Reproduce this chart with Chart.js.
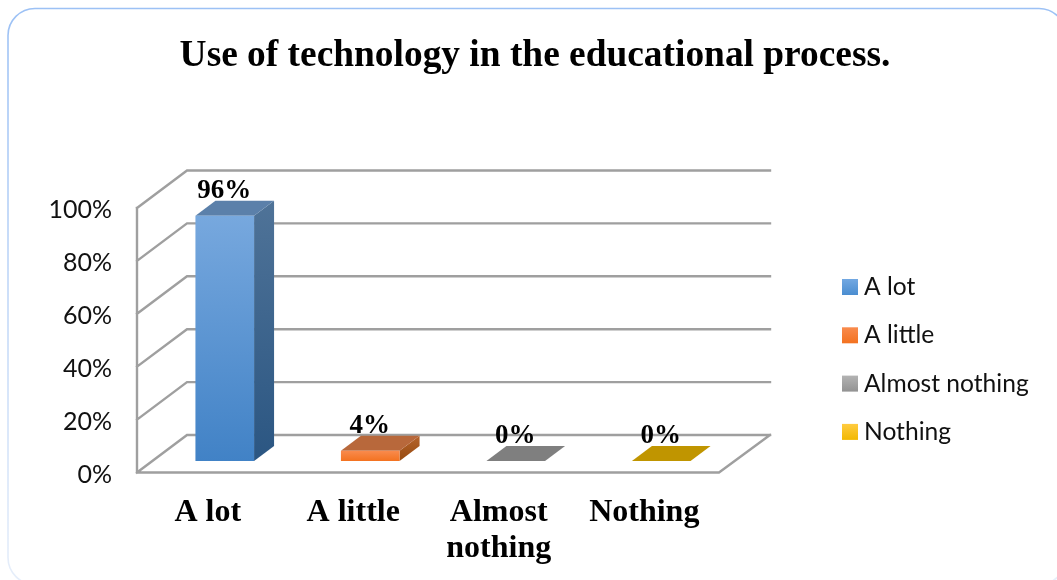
<!DOCTYPE html>
<html>
<head>
<meta charset="utf-8">
<title>Use of technology in the educational process.</title>
<script src="https://cdn.jsdelivr.net/npm/chart.js@4/dist/chart.umd.min.js"></script>
<style>
	html, body { margin: 0; padding: 0; background: #fff; overflow: hidden; }
	#wrap { width: 1057px; height: 580px; }
</style>
</head>
<body>
<div id="wrap"><canvas id="barChart" width="1057" height="580"></canvas></div>
<script>
const categories = ['A lot', 'A little', 'Almost nothing', 'Nothing'];
const tickLabels = ['A lot', 'A little', ['Almost', 'nothing'], 'Nothing'];
const percentages = [96, 4, 0, 0];
const yTicks = [0, 20, 40, 60, 80, 100];

// front face top, front face bottom, top face, side top, side bottom
const blueShades = ['#77a8de', '#4182c6', '#5b80aa', '#4f7398', '#2b5682'];
const orangeShades = ['#f98b4d', '#f37220', '#b8683b', '#b5632b', '#964a10'];
const grayShades = ['#a5a5a5', '#7f7f7f', '#7f7f7f', '#7f7f7f', '#7f7f7f'];
const goldShades = ['#ffc000', '#bf9000', '#c09500', '#bf9000', '#bf9000'];
const shades = [blueShades, orangeShades, grayShades, goldShades];

const legendSwatches = [
	['#72a8e2', '#4a8dd0'],
	['#f98b4d', '#f37220'],
	['#b3b3b3', '#929292'],
	['#ffcb40', '#f2b800']
];

const wallDepth = { x: 50, y: 37.5 };
const barDepth = { x: 20, y: 15 };
const barPlaneShift = 15;
const gridColor = '#9f9f9f';

function fillPolygon(ctx, points, fill) {
	ctx.beginPath();
	points.forEach(function (p, i) {
		if (i === 0) ctx.moveTo(p[0], p[1]);
		else ctx.lineTo(p[0], p[1]);
	});
	ctx.closePath();
	ctx.fillStyle = fill;
	ctx.fill();
}

function vertical(ctx, y0, y1, from, to) {
	const g = ctx.createLinearGradient(0, y0, 0, y1);
	g.addColorStop(0, from);
	g.addColorStop(1, to);
	return g;
}

// rounded frame round the whole chart, fading towards the bottom
const framePlugin = {
	id: 'frame',
	beforeDraw(chart) {
		const ctx = chart.ctx;
		ctx.save();
		ctx.fillStyle = '#fff';
		ctx.fillRect(0, 0, chart.width, chart.height);
		ctx.beginPath();
		ctx.roundRect(8, 8.5, 1058, 576, 27);
		ctx.lineWidth = 1.6;
		ctx.strokeStyle = vertical(ctx, 8, 580, '#9cc1f5', '#e6eefa');
		ctx.stroke();
		ctx.restore();
	}
};

// walls and floor of the 3D box, one line per tick of the y scale
const wallsPlugin = {
	id: 'walls',
	beforeDatasetsDraw(chart) {
		const ctx = chart.ctx;
		const area = chart.chartArea;
		const y = chart.scales.y;
		const left = area.left - barPlaneShift;
		const right = left + 582;
		const backRight = right + wallDepth.x + 1;
		const floor = y.getPixelForValue(0);
		const top = y.getPixelForValue(100);

		ctx.save();
		ctx.strokeStyle = gridColor;
		ctx.lineWidth = 2.4;
		ctx.lineCap = 'square';
		ctx.beginPath();
		yTicks.forEach(function (tick) {
			const py = y.getPixelForValue(tick);
			ctx.moveTo(left, py);
			ctx.lineTo(left + wallDepth.x, py - wallDepth.y);
			ctx.lineTo(backRight, py - wallDepth.y);
		});
		ctx.moveTo(left, top);
		ctx.lineTo(left, floor);
		ctx.lineTo(right, floor);
		ctx.lineTo(backRight, floor - wallDepth.y);
		ctx.stroke();
		ctx.restore();
	}
};

// top and side faces of each bar, built on the bar element the library laid out
const barFacesPlugin = {
	id: 'barFaces',
	beforeDatasetsDraw(chart) {
		const ctx = chart.ctx;
		chart.getDatasetMeta(0).data.forEach(function (bar, i) {
			const c = shades[i];
			const l = bar.x - bar.width / 2;
			const r = bar.x + bar.width / 2;
			const dx = barDepth.x;
			const dy = barDepth.y;
			fillPolygon(ctx, [[r, bar.y], [r + dx, bar.y - dy], [r + dx, bar.base - dy], [r, bar.base]],
				vertical(ctx, bar.y - dy, bar.base, c[3], c[4]));
			fillPolygon(ctx, [[l, bar.y], [l + dx, bar.y - dy], [r + dx, bar.y - dy], [r, bar.y]], c[2]);
		});
	},
	afterDatasetsDraw(chart) {
		const ctx = chart.ctx;
		ctx.save();
		ctx.font = 'bold 27px "Liberation Serif"';
		ctx.fillStyle = '#000';
		ctx.textAlign = 'center';
		ctx.textBaseline = 'alphabetic';
		chart.getDatasetMeta(0).data.forEach(function (bar, i) {
			ctx.fillText(percentages[i] + '%', bar.x - 0.5, bar.y - barDepth.y - 3);
		});
		ctx.restore();
	}
};

const legendPlugin = {
	id: 'sideLegend',
	afterDraw(chart) {
		const ctx = chart.ctx;
		ctx.save();
		ctx.font = '24.6px Lato';
		ctx.textBaseline = 'middle';
		categories.forEach(function (name, i) {
			const y = 279 + i * 48.3;
			ctx.fillStyle = vertical(ctx, y, y + 16, legendSwatches[i][0], legendSwatches[i][1]);
			ctx.fillRect(842, y, 16, 16);
			ctx.fillStyle = '#111';
			ctx.fillText(name, 864, y + 8);
		});
		ctx.restore();
	}
};

new Chart(document.getElementById('barChart'), {
	type: 'bar',
	data: {
		labels: tickLabels,
		datasets: [{
			data: percentages,
			yAxisID: 'yBars',
			categoryPercentage: 1,
			barPercentage: 0.403,
			borderWidth: 0,
			backgroundColor(context) {
				const i = context.dataIndex;
				const yBars = context.chart.scales.yBars;
				const y0 = yBars ? yBars.getPixelForValue(percentages[i]) : NaN;
				const y1 = yBars ? yBars.getPixelForValue(0) : NaN;
				// scales have no pixels yet on the first pass through the options
				if (!Number.isFinite(y0) || !Number.isFinite(y1)) return '#4182c6';
				return vertical(context.chart.ctx, y0, y1, shades[i][0], shades[i][1]);
			}
		}]
	},
	options: {
		responsive: false,
		animation: false,
		layout: { padding: { left: 13, right: 0, top: 0, bottom: 0 } },
		plugins: {
			legend: { display: false },
			tooltip: { enabled: false },
			title: {
				display: true,
				text: 'Use of technology in the educational process.',
				color: '#000',
				font: { family: '"Liberation Serif"', size: 37.4, weight: 'bold', lineHeight: 1.2 },
				padding: { top: 34, bottom: 129.1 }
			}
		},
		scales: {
			x: {
				grid: { display: false },
				border: { display: false },
				afterFit(axis) { axis.height = 107.5; },
				ticks: {
					color: '#000',
					padding: 14,
					labelOffset: -17,
					maxRotation: 0,
					autoSkip: false,
					font: { family: '"Liberation Serif"', size: 32, weight: 'bold', lineHeight: 1.14 }
				}
			},
			y: {
				min: 0,
				max: 100,
				grid: { display: false },
				border: { display: false },
				afterFit(axis) { axis.width = 139; },
				ticks: {
					stepSize: 20,
					color: '#111',
					padding: 32,
					labelOffset: 2,
					font: { family: 'Lato', size: 25 },
					callback(value) { return value + '%'; }
				}
			},
			// plane the bars stand on, a little behind the front edge of the floor
			yBars: {
				position: 'right',
				min: -4.5,
				max: 99,
				grid: { display: false },
				border: { display: false },
				afterFit(axis) { axis.width = 323; },
				ticks: { display: false }
			}
		}
	},
	plugins: [framePlugin, wallsPlugin, barFacesPlugin, legendPlugin]
});
</script>
</body>
</html>
